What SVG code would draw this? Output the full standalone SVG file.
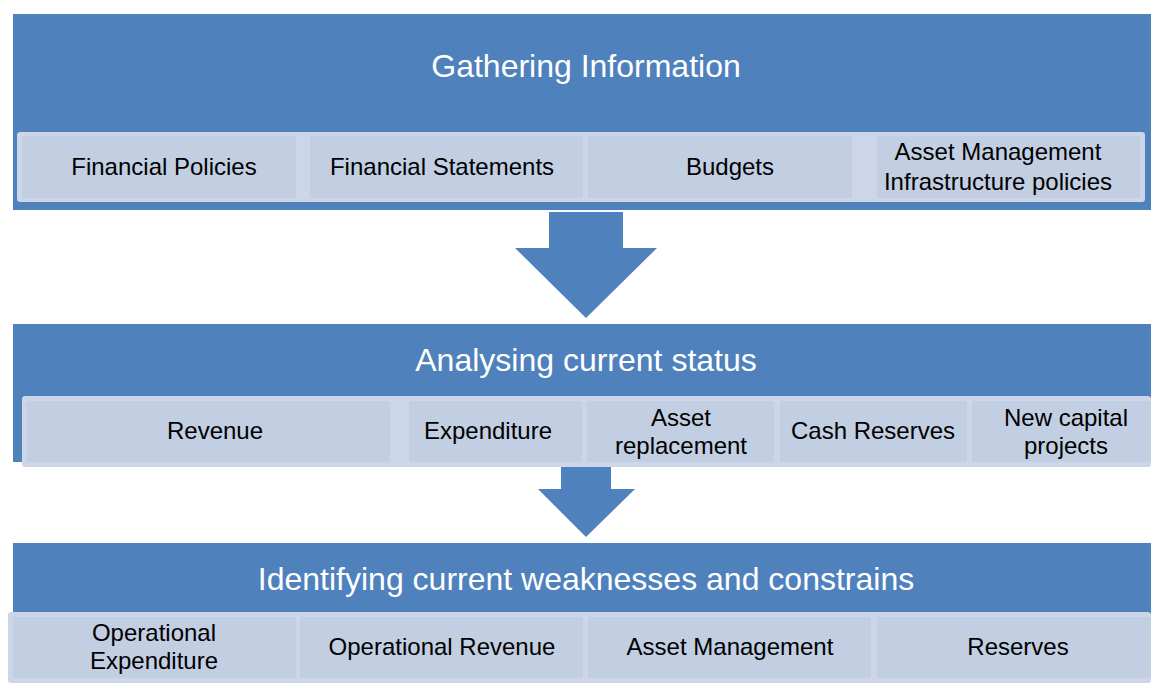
<svg xmlns="http://www.w3.org/2000/svg" width="1151" height="695" viewBox="0 0 1151 695">
<style>
.band{fill:#4f81bd}
.outer{fill:#cdd6e8}
.inner{fill:#c2cee2}
.title{font-family:"Liberation Sans",Arial,sans-serif;font-size:32px;fill:#ffffff;text-anchor:middle}
.lbl{font-family:"Liberation Sans",Arial,sans-serif;font-size:24px;fill:#000000;text-anchor:middle}
.arrow{fill:#4f81bd}
</style>
<rect width="1151" height="695" fill="#ffffff"/>
<g id="stage1">
<rect class="band" x="13" y="14" width="1138" height="196"/>
<text class="title" x="586" y="77">Gathering Information</text>
</g>
<g id="stage2">
<rect class="band" x="13" y="324" width="1138" height="138"/>
<text class="title" x="586" y="371">Analysing current status</text>
</g>
<g id="stage3">
<rect class="band" x="13" y="543" width="1138" height="72"/>
<text class="title" x="586" y="590">Identifying current weaknesses and constrains</text>
</g>
<g id="row1-outlines">
<rect class="outer" x="17" y="132" width="293" height="70" rx="3"/>
<rect class="outer" x="296" y="132" width="292" height="70" rx="3"/>
<rect class="outer" x="583" y="132" width="274" height="70" rx="3"/>
<rect class="outer" x="852" y="132" width="293" height="70" rx="3"/>
</g>
<g id="financial-policies">
<rect class="inner" x="22" y="136" width="274" height="62"/>
<text class="lbl" x="164" y="175">Financial Policies</text>
</g>
<g id="financial-statements">
<rect class="inner" x="310" y="136" width="273" height="62"/>
<text class="lbl" x="442" y="175">Financial Statements</text>
</g>
<g id="budgets">
<rect class="inner" x="588" y="136" width="264" height="62"/>
<text class="lbl" x="730" y="175">Budgets</text>
</g>
<g id="asset-management-policies">
<rect class="inner" x="877" y="136" width="263" height="62"/>
<text class="lbl" x="998" y="160">Asset Management</text>
<text class="lbl" x="998" y="190">Infrastructure policies</text>
</g>
<g id="row2-outlines">
<rect class="outer" x="22" y="396" width="386" height="71" rx="3"/>
<rect class="outer" x="390" y="396" width="197" height="71" rx="3"/>
<rect class="outer" x="582" y="396" width="197" height="71" rx="3"/>
<rect class="outer" x="774" y="396" width="198" height="71" rx="3"/>
<rect class="outer" x="967" y="396" width="184" height="71" rx="3"/>
</g>
<g id="revenue">
<rect class="inner" x="27" y="401" width="363" height="61"/>
<text class="lbl" x="215" y="439">Revenue</text>
</g>
<g id="expenditure">
<rect class="inner" x="409" y="401" width="173" height="61"/>
<text class="lbl" x="488" y="439">Expenditure</text>
</g>
<g id="asset-replacement">
<rect class="inner" x="587" y="401" width="187" height="61"/>
<text class="lbl" x="681" y="426">Asset</text>
<text class="lbl" x="681" y="454">replacement</text>
</g>
<g id="cash-reserves">
<rect class="inner" x="780" y="401" width="187" height="61"/>
<text class="lbl" x="873" y="439">Cash Reserves</text>
</g>
<g id="new-capital-projects">
<rect class="inner" x="972" y="401" width="179" height="61"/>
<text class="lbl" x="1066" y="426">New capital</text>
<text class="lbl" x="1066" y="454">projects</text>
</g>
<g id="row3-outlines">
<rect class="outer" x="8" y="612" width="292" height="71" rx="3"/>
<rect class="outer" x="296" y="612" width="292" height="71" rx="3"/>
<rect class="outer" x="583" y="612" width="293" height="71" rx="3"/>
<rect class="outer" x="871" y="612" width="280" height="71" rx="3"/>
</g>
<g id="operational-expenditure">
<rect class="inner" x="13" y="617" width="283" height="61"/>
<text class="lbl" x="154" y="641">Operational</text>
<text class="lbl" x="154" y="669">Expenditure</text>
</g>
<g id="operational-revenue">
<rect class="inner" x="300" y="617" width="283" height="61"/>
<text class="lbl" x="442" y="655">Operational Revenue</text>
</g>
<g id="asset-management">
<rect class="inner" x="588" y="617" width="283" height="61"/>
<text class="lbl" x="730" y="655">Asset Management</text>
</g>
<g id="reserves">
<rect class="inner" x="877" y="617" width="274" height="61"/>
<text class="lbl" x="1018" y="655">Reserves</text>
</g>
<g id="connectors">
<polygon class="arrow" points="549,212 623,212 623,248 657,248 586,318 515,248 549,248"/>
<polygon class="arrow" points="561,467 611,467 611,489 635,489 586,537 538,489 561,489"/>
</g>
</svg>
